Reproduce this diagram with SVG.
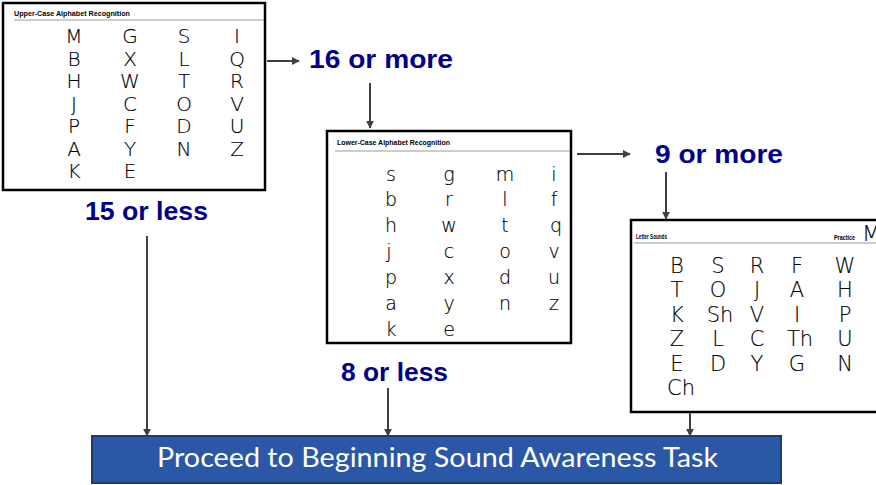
<svg xmlns="http://www.w3.org/2000/svg" width="876" height="485" viewBox="0 0 876 485">
<defs>
<marker id="ah" viewBox="0 0 10 10" refX="9" refY="5" markerWidth="4" markerHeight="4" orient="auto" markerUnits="strokeWidth">
<path d="M0,0 L10,5 L0,10 z" fill="#404040"/>
</marker>
<style>
.sheet{fill:#fff;stroke:#000;stroke-width:2.5}
.rule{stroke:#999;stroke-width:1}
.ttl{font-family:"Liberation Sans",Arial,sans-serif;font-weight:bold;font-size:8px;fill:#000}
.ltr{font-family:"DejaVu Sans","Liberation Sans",sans-serif;font-weight:200;fill:#000;stroke:#000;stroke-width:0.15;text-anchor:middle}
.up{font-size:20px}
.lo{font-size:19px}
.snd{font-size:21px}
.num{font-family:"Liberation Sans",Arial,sans-serif;font-weight:bold;font-size:26px;fill:#00008b}
.conn{stroke:#404040;stroke-width:2;fill:none;marker-end:url(#ah)}
.final{fill:#2b57a7;stroke:#1f3c6e;stroke-width:2}
.ftxt{font-family:Lato,"Open Sans",sans-serif;font-size:27px;fill:#fff}
</style>
</defs>

<g id="upper-case">
<rect class="sheet" x="3" y="3" width="262" height="187"/>
<text class="ttl" x="14" y="16" textLength="116" lengthAdjust="spacingAndGlyphs">Upper-Case Alphabet Recognition</text>
<line class="rule" x1="14" y1="20" x2="264" y2="20"/>
<g class="ltr up">
<text x="74" y="43">M</text><text x="130" y="43">G</text><text x="184" y="43">S</text><text x="237" y="43">I</text>
<text x="74" y="66">B</text><text x="130" y="66">X</text><text x="184" y="66">L</text><text x="237" y="66">Q</text>
<text x="74" y="88">H</text><text x="130" y="88">W</text><text x="184" y="88">T</text><text x="237" y="88">R</text>
<text x="74" y="111">J</text><text x="130" y="111">C</text><text x="184" y="111">O</text><text x="237" y="111">V</text>
<text x="74" y="133">P</text><text x="130" y="133">F</text><text x="184" y="133">D</text><text x="237" y="133">U</text>
<text x="74" y="156">A</text><text x="130" y="156">Y</text><text x="184" y="156">N</text><text x="237" y="156">Z</text>
<text x="74" y="178">K</text><text x="130" y="178">E</text>
</g>
</g>

<g id="lower-case">
<rect class="sheet" x="327" y="131" width="244" height="212"/>
<text class="ttl" x="337" y="145" textLength="113" lengthAdjust="spacingAndGlyphs">Lower-Case Alphabet Recognition</text>
<line class="rule" x1="335" y1="151" x2="570" y2="151"/>
<g class="ltr lo">
<text x="391" y="181">s</text><text x="449" y="181">g</text><text x="505" y="181">m</text><text x="554" y="181">i</text>
<text x="391" y="206">b</text><text x="449" y="206">r</text><text x="505" y="206">l</text><text x="554" y="206">f</text>
<text x="391" y="232">h</text><text x="449" y="232">w</text><text x="505" y="232">t</text><text x="556" y="232">q</text>
<text x="389" y="258">j</text><text x="449" y="258">c</text><text x="505" y="258">o</text><text x="554" y="258">v</text>
<text x="391" y="284">p</text><text x="449" y="284">x</text><text x="505" y="284">d</text><text x="554" y="284">u</text>
<text x="391" y="310">a</text><text x="449" y="310">y</text><text x="505" y="310">n</text><text x="554" y="310">z</text>
<text x="391" y="336">k</text><text x="449" y="336">e</text>
</g>
</g>

<g id="letter-sounds">
<rect class="sheet" x="631" y="220" width="250" height="192"/>
<text class="ttl" x="636" y="239" textLength="31" lengthAdjust="spacingAndGlyphs">Letter Sounds</text>
<text class="ttl" x="834" y="240" font-size="6" textLength="21" lengthAdjust="spacingAndGlyphs">Practice</text>
<text class="ltr" x="862" y="241" font-size="22" style="text-anchor:start">M</text>
<line class="rule" x1="634" y1="243" x2="876" y2="243"/>
<g class="ltr snd">
<text x="677" y="273">B</text><text x="718" y="273">S</text><text x="757" y="273">R</text><text x="797" y="273">F</text><text x="845" y="273">W</text>
<text x="677" y="297">T</text><text x="718" y="297">O</text><text x="757" y="297">J</text><text x="797" y="297">A</text><text x="845" y="297">H</text>
<text x="677" y="322">K</text><text x="720" y="322">Sh</text><text x="757" y="322">V</text><text x="797" y="322">I</text><text x="845" y="322">P</text>
<text x="677" y="346">Z</text><text x="718" y="346">L</text><text x="757" y="346">C</text><text x="800" y="346">Th</text><text x="845" y="346">U</text>
<text x="677" y="371">E</text><text x="718" y="371">D</text><text x="757" y="371">Y</text><text x="797" y="371">G</text><text x="845" y="371">N</text>
<text x="681" y="395">Ch</text>
</g>
</g>

<g id="label-16">
<text class="num" x="309" y="68" textLength="144" lengthAdjust="spacingAndGlyphs">16 or more</text>
</g>
<g id="label-15">
<text class="num" x="85" y="220" textLength="123" lengthAdjust="spacingAndGlyphs">15 or less</text>
</g>
<g id="label-9">
<text class="num" x="655" y="163" textLength="128" lengthAdjust="spacingAndGlyphs">9 or more</text>
</g>
<g id="label-8">
<text class="num" x="341" y="381" textLength="107" lengthAdjust="spacingAndGlyphs">8 or less</text>
</g>

<g id="proceed">
<rect class="final" x="92" y="436" width="689" height="47"/>
<text class="ftxt" x="157" y="467" textLength="561" lengthAdjust="spacingAndGlyphs">Proceed to Beginning Sound Awareness Task</text>
</g>

<g id="connectors">
<line class="conn" x1="267" y1="61" x2="299" y2="61"/>
<line class="conn" x1="370" y1="83" x2="370" y2="128"/>
<line class="conn" x1="577" y1="154" x2="630" y2="154"/>
<line class="conn" x1="666" y1="172" x2="666" y2="219"/>
<line class="conn" x1="147" y1="236" x2="147" y2="436"/>
<line class="conn" x1="388" y1="388" x2="388" y2="436"/>
<line class="conn" x1="690" y1="413" x2="690" y2="436"/>
</g>
</svg>
